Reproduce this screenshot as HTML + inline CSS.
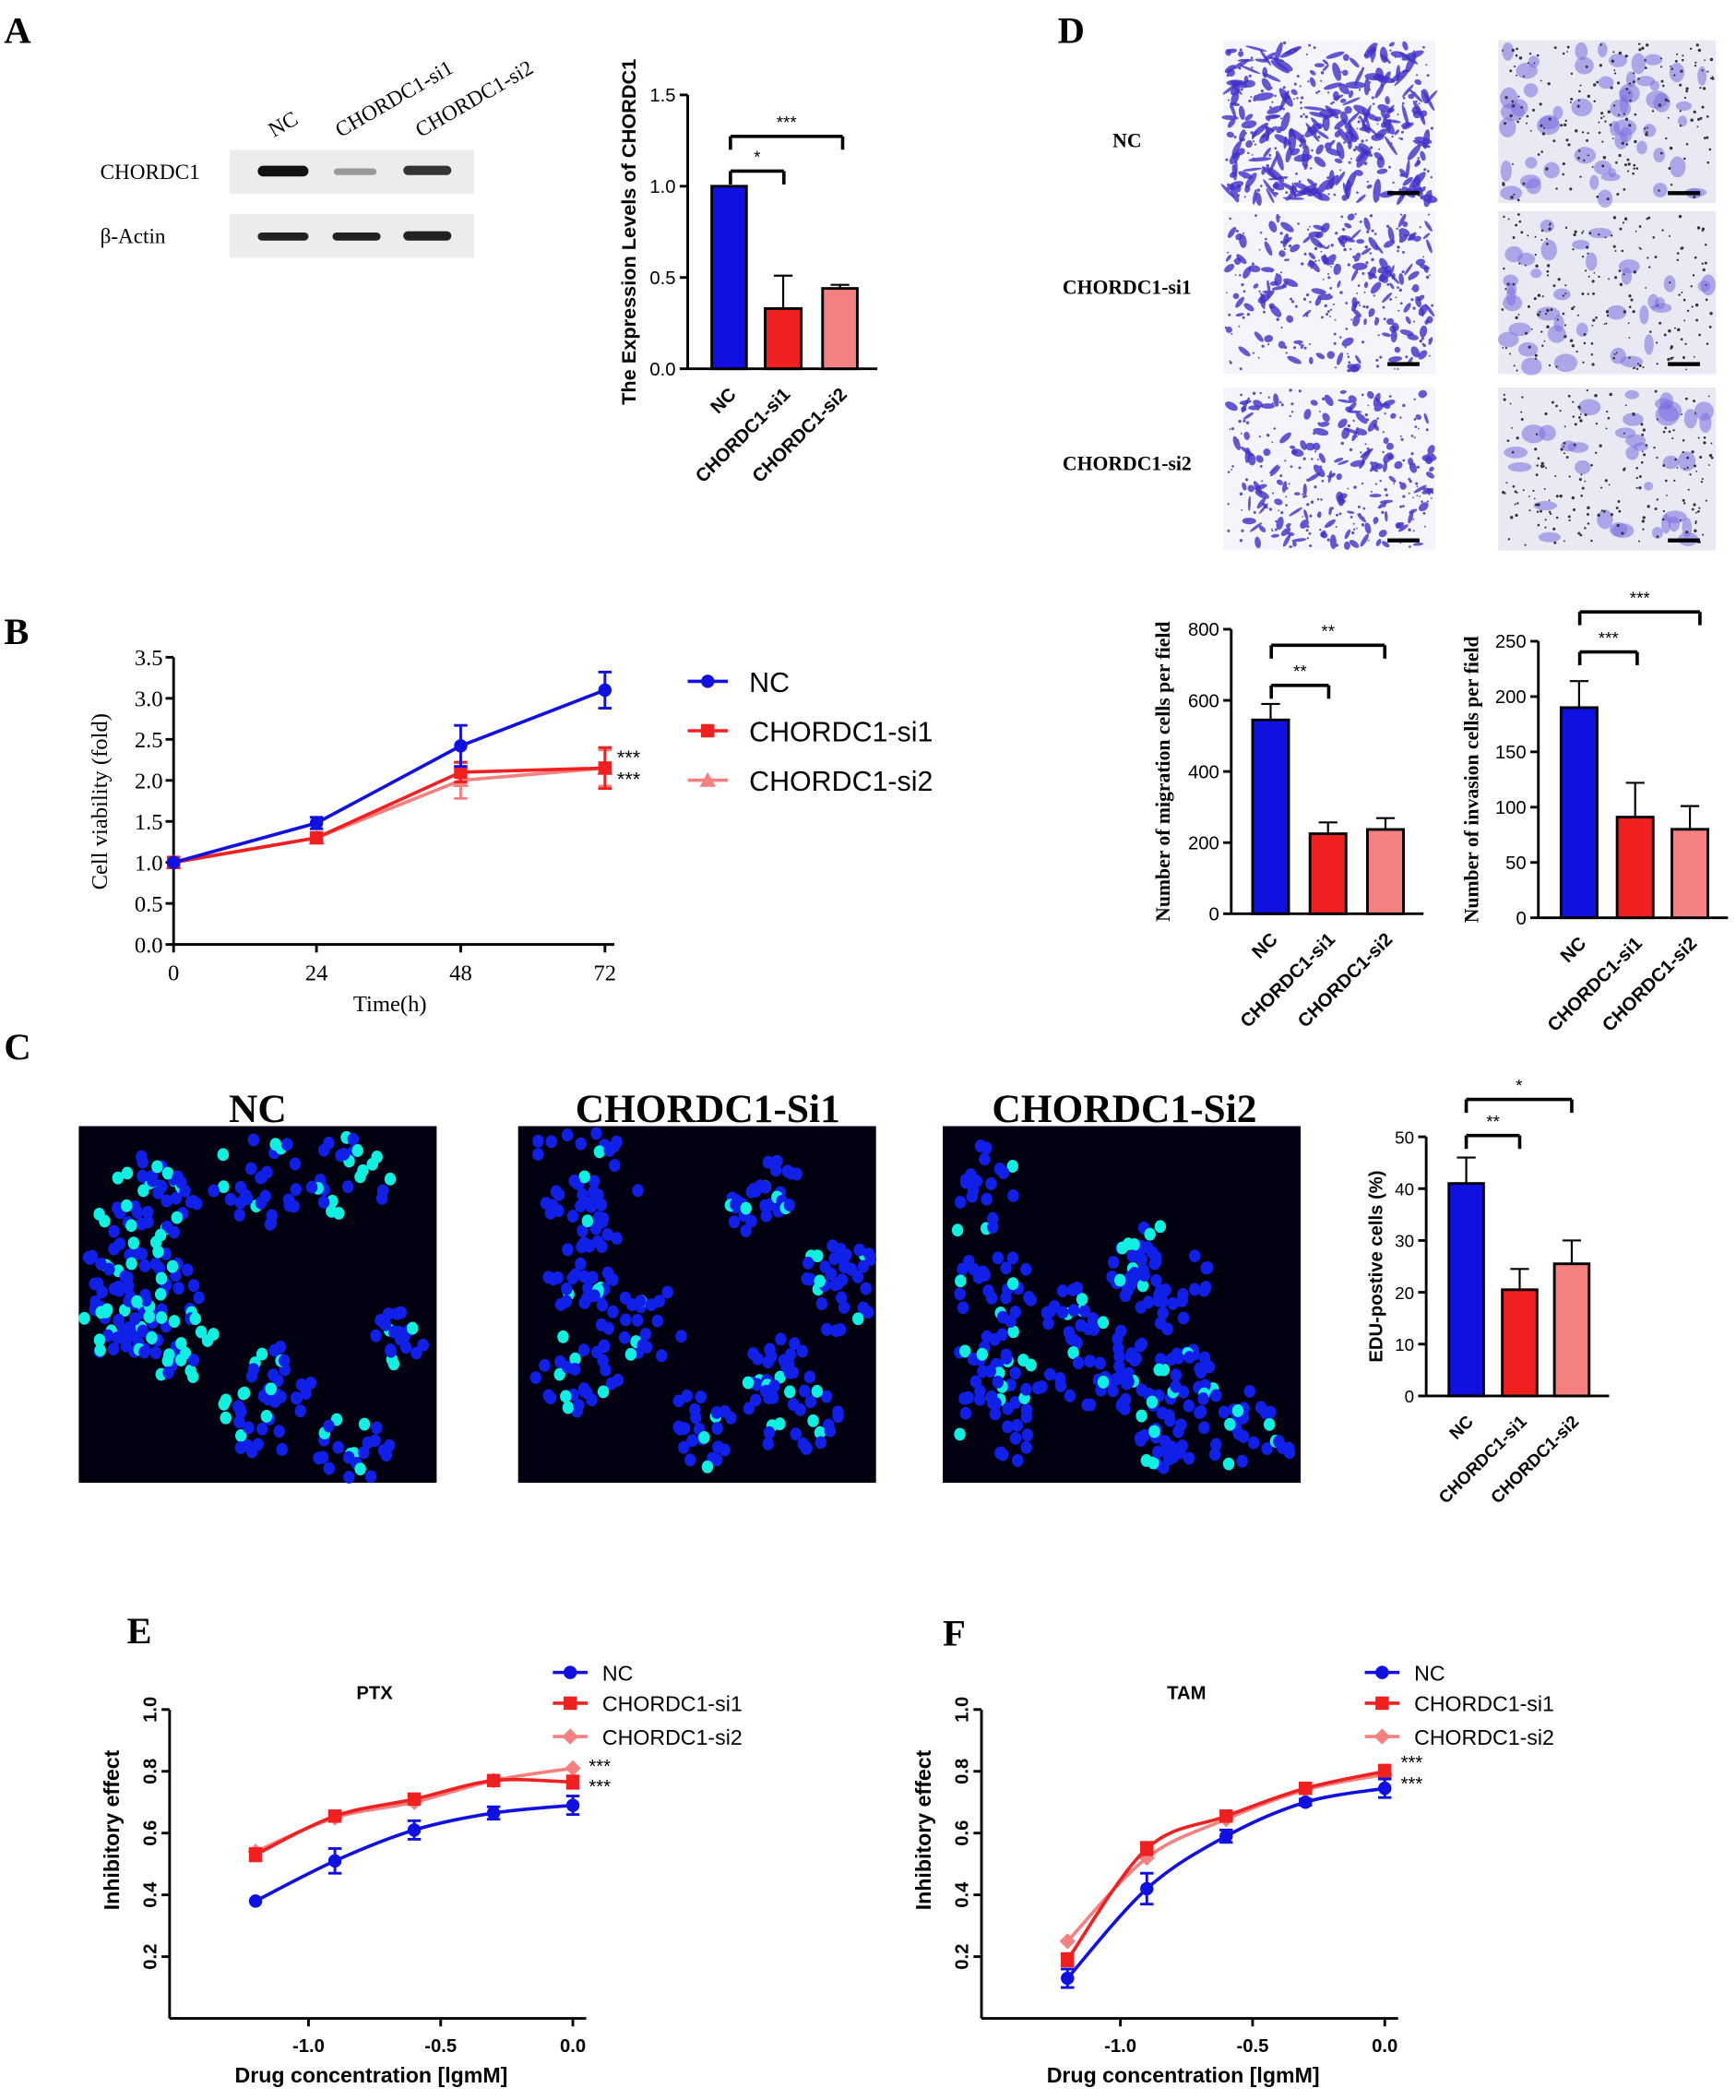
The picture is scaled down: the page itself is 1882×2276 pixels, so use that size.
<!DOCTYPE html>
<html><head><meta charset="utf-8"><style>
html,body{margin:0;padding:0;background:#fff}
svg{display:block}
text{font-family:"Liberation Sans",sans-serif}
.serif{font-family:"Liberation Serif",serif}
</style></head><body>
<svg id="s" xmlns="http://www.w3.org/2000/svg" width="1882" height="2276" viewBox="0 0 1300 1572">
<rect width="1300" height="1572" fill="#fff"/>
<g class="serif" font-weight="bold" font-size="28">
<text x="3" y="32" class="serif">A</text>
<text x="3" y="482" class="serif">B</text>
<text x="3" y="793" class="serif">C</text>
<text x="792" y="32" class="serif">D</text>
<text x="95" y="1230" class="serif">E</text>
<text x="706" y="1232" class="serif">F</text>
</g>
<g class="serif" font-size="16">
<text x="205" y="103" transform="rotate(-30 205 103)" class="serif">NC</text>
<text x="255" y="103" transform="rotate(-30 255 103)" class="serif">CHORDC1-si1</text>
<text x="315" y="103" transform="rotate(-30 315 103)" class="serif">CHORDC1-si2</text>
<text x="75" y="134" class="serif">CHORDC1</text>
<text x="75" y="182" class="serif">β-Actin</text>
</g>
<rect x="172" y="112" width="183" height="33" fill="#ececec"/>
<rect x="172" y="160" width="183" height="33" fill="#ececec"/>
<rect x="193" y="124" width="38" height="8" rx="4" fill="#111"/>
<rect x="250" y="126" width="32" height="5" rx="2.5" fill="#999"/>
<rect x="302" y="124" width="36" height="7" rx="3.5" fill="#333"/>
<rect x="193" y="174" width="38" height="6" rx="3" fill="#222"/>
<rect x="249" y="174" width="36" height="6" rx="3" fill="#222"/>
<rect x="302" y="173" width="36" height="7" rx="3.5" fill="#222"/>
<g id="dyn"></g>
</svg>
<script>
const S=document.getElementById('dyn');
let H='';
function t(x,y,s,o){o=o||{};H+=`<text x="${x}" y="${y}" font-size="${o.fs||13}" ${o.a?'text-anchor="'+o.a+'"':''} ${o.w?'font-weight="bold"':''} ${o.r!=null?`transform="rotate(${o.r} ${x} ${y})"`:''} ${o.c?'class="serif"':''} fill="${o.f||'#000'}">${s}</text>`;}
function l(x1,y1,x2,y2,w,c){H+=`<line x1="${x1}" y1="${y1}" x2="${x2}" y2="${y2}" stroke="${c||'#000'}" stroke-width="${w||2}"/>`;}
function r(x,y,w,h,f){H+=`<rect x="${x}" y="${y}" width="${w}" height="${h}" fill="${f}" stroke="#000" stroke-width="2"/>`;}
const BL='#1010e0',RD='#f02020',PK='#f48080';
function bars(ax,y0,ytop,vmax,step,ticks,bs,vals,errs,cols,labels,ylabel,ylx,brs,fs){
 l(ax,y0,ax,ytop,2);l(ax,y0,bs[bs.length-1][0]+bs[0][1]+15,y0,2);
 const sc=(y0-ytop)/vmax;
 ticks.forEach(v=>{const y=y0-v*sc;l(ax-6,y,ax,y,2);t(ax-9,y+5,v,{a:'end',fs:fs||13});});
 bs.forEach((b,i)=>{const y=y0-vals[i]*sc;r(b[0],y,b[1],y0-y,cols[i]);const cx=b[0]+b[1]/2;const ey=y-errs[i]*sc;l(cx,y,cx,ey,1.5);l(cx-7,ey,cx+7,ey,1.5);
  t(cx+6,y0+20,labels[i],{a:'end',r:-45,w:1,fs:fs||13});});
 brs.forEach(b=>{l(b[0],b[2],b[0],b[2]+10,2.5);l(b[0],b[2],b[1],b[2],2.5);l(b[1],b[2],b[1],b[2]+10,2.5);t((b[0]+b[1])/2,b[2]-6,b[3],{a:'middle',fs:13});});
 t(ylx,(y0+ytop)/2,ylabel,{a:'middle',r:-90,w:1,fs:fs?fs+1:15,c:ylabel.startsWith('Number')});
}
const LB=['NC','CHORDC1-si1','CHORDC1-si2'];
bars(515,276,71,1.5,0,['0.0','0.5','1.0','1.5'],[[533,26],[573,27],[616,26]],[1,0.33,0.44],[0,0.18,0.02],[BL,RD,PK],LB,'The Expression Levels of CHORDC1',476,[[547,587,128,'*'],[547,631,102,'***']],14);
bars(922,684,471,800,0,['0','200','400','600','800'],[[938,27],[981,27],[1024,27]],[545,225,237],[45,32,32],[BL,RD,PK],LB,'Number of migration cells per field',876,[[952,995,513,'**'],[952,1037,483,'**']],14);
bars(1152,687,480,250,0,['0','50','100','150','200','250'],[[1169,27],[1211,27],[1252,27]],[190,91,80],[24,31,21],[BL,RD,PK],LB,'Number of invasion cells per field',1107,[[1183,1226,488,'***'],[1183,1273,458,'***']],14);
bars(1068,1045,851,50,0,['0','10','20','30','40','50'],[[1085,26],[1125,26],[1164,26]],[41,20.5,25.5],[5,4,4.5],[BL,RD,PK],LB,'EDU-postive cells (%)',1035,[[1098,1138,850,'**'],[1098,1177,823,'*']],13);
{const x0=130,y0=707,sy=(707-492)/3.5,xs=[130,237,345,453];
 l(x0,y0,x0,492,2);l(x0,y0,460,y0,2);
 for(let i=0;i<=7;i++){const y=y0-i*0.5*sy;l(x0-6,y,x0,y,2);t(x0-8,y+6,(i*0.5).toFixed(1),{a:'end',fs:17,c:1});}
 xs.forEach((x,i)=>{l(x,y0,x,y0+6,2);t(x,y0+27,[0,24,48,72][i],{a:'middle',fs:17,c:1});});
 t(292,757,'Time(h)',{a:'middle',fs:17,c:1});t(80,600,'Cell viability (fold)',{a:'middle',r:-90,fs:17,c:1});
 const ser=[[PK,[1,1.3,2.0,2.15],[0,.03,.22,.22],'tri'],[RD,[1,1.3,2.1,2.15],[0,.04,.12,.25],'sq'],[BL,[1,1.48,2.42,3.1],[0,.07,.25,.22],'c']];
 ser.forEach(s=>{let p=s[1].map((v,i)=>xs[i]+','+(y0-v*sy)).join(' ');H+=`<polyline points="${p}" fill="none" stroke="${s[0]}" stroke-width="2.5"/>`;
  s[1].forEach((v,i)=>{const y=y0-v*sy,x=xs[i],e=s[2][i]*sy;if(e){l(x,y-e,x,y+e,2,s[0]);l(x-5,y-e,x+5,y-e,2,s[0]);l(x-5,y+e,x+5,y+e,2,s[0]);}
   if(s[3]=='c')H+=`<circle cx="${x}" cy="${y}" r="5" fill="${s[0]}"/>`;else if(s[3]=='sq')H+=`<rect x="${x-5}" y="${y-5}" width="10" height="10" fill="${s[0]}"/>`;else H+=`<polygon points="${x},${y-6} ${x-6},${y+5} ${x+6},${y+5}" fill="${s[0]}"/>`;});});
 t(462,572,'***',{fs:15});t(462,588,'***',{fs:15});
 [[BL,510,'NC','c'],[RD,547,'CHORDC1-si1','sq'],[PK,584,'CHORDC1-si2','tri']].forEach(g=>{l(515,g[1],545,g[1],2.5,g[0]);const x=530,y=g[1];
  if(g[3]=='c')H+=`<circle cx="${x}" cy="${y}" r="5" fill="${g[0]}"/>`;else if(g[3]=='sq')H+=`<rect x="${x-5}" y="${y-5}" width="10" height="10" fill="${g[0]}"/>`;else H+=`<polygon points="${x},${y-6} ${x-6},${y+5} ${x+6},${y+5}" fill="${g[0]}"/>`;
  t(561,y+8,g[2],{fs:21});});}
function dose(ax,title,xt,data,stars){
 const y0=1511,sy=(1465-1280)/0.8;
 const xp=v=>(xt)+(v+1)*198;
 l(ax,y0,ax,1280,2);l(ax,y0,xp(0)+10,y0,2);
 [0.2,0.4,0.6,0.8,1.0].forEach(v=>{const y=y0-v*sy;l(ax-6,y,ax,y,2);t(ax-10,y,v.toFixed(1),{a:'middle',r:-90,fs:14,w:1});});
 [-1.0,-0.5,0.0].forEach(v=>{l(xp(v),y0,xp(v),y0+6,2);t(xp(v),y0+25,v.toFixed(1),{a:'middle',fs:14,w:1});});
 t((ax+xp(0))/2,y0+48,'Drug concentration [lgmM]',{a:'middle',fs:16,w:1});
 t(ax-38,1370,'Inhibitory effect',{a:'middle',r:-90,fs:16,w:1});
 t(xp(-0.75),1272,title,{a:'middle',fs:14,w:1});
 const xs=[-1.2,-0.9,-0.6,-0.3,0];
 data.forEach(s=>{const P=s[1].map((v,i)=>[xp(xs[i]),y0-v*sy]);
  let d=`M${P[0][0]},${P[0][1]}`;
  for(let i=0;i<P.length-1;i++){const p0=P[Math.max(0,i-1)],p1=P[i],p2=P[i+1],p3=P[Math.min(P.length-1,i+2)];
   d+=` C${p1[0]+(p2[0]-p0[0])/6},${p1[1]+(p2[1]-p0[1])/6} ${p2[0]-(p3[0]-p1[0])/6},${p2[1]-(p3[1]-p1[1])/6} ${p2[0]},${p2[1]}`;}
  H+=`<path d="${d}" fill="none" stroke="${s[0]}" stroke-width="2.5"/>`;
  s[1].forEach((v,i)=>{const x=xp(xs[i]),y=y0-v*sy,e=s[2][i]*sy;if(e){l(x,y-e,x,y+e,2,s[0]);l(x-5,y-e,x+5,y-e,2,s[0]);l(x-5,y+e,x+5,y+e,2,s[0]);}
   if(s[3]=='c')H+=`<circle cx="${x}" cy="${y}" r="5" fill="${s[0]}"/>`;else if(s[3]=='sq')H+=`<rect x="${x-5}" y="${y-5}" width="10" height="10" fill="${s[0]}"/>`;else H+=`<polygon points="${x},${y-6} ${x+6},${y} ${x},${y+6} ${x-6},${y}" fill="${s[0]}"/>`;});});
 const lx=xp(0)-15;
 [[BL,1252,'NC','c'],[RD,1275,'CHORDC1-si1','sq'],[PK,1300,'CHORDC1-si2','d']].forEach(g=>{l(lx,g[1],lx+26,g[1],2.5,g[0]);const x=lx+13,y=g[1];
  if(g[3]=='c')H+=`<circle cx="${x}" cy="${y}" r="5" fill="${g[0]}"/>`;else if(g[3]=='sq')H+=`<rect x="${x-5}" y="${y-5}" width="10" height="10" fill="${g[0]}"/>`;else H+=`<polygon points="${x},${y-6} ${x+6},${y} ${x},${y+6} ${x-6},${y}" fill="${g[0]}"/>`;
  t(lx+37,y+6,g[2],{fs:16});});
 t(xp(0)+12,stars[0],'***',{fs:14});t(xp(0)+12,stars[1],'***',{fs:14});
}
dose(127,'PTX',231,[[PK,[.54,.65,.70,.77,.81],[0,0,0,0,0],'d'],[RD,[.53,.655,.71,.77,.765],[.02,.01,.01,.01,.02],'sq'],[BL,[.38,.51,.61,.665,.69],[0,.04,.03,.02,.03],'c']],[1327,1342]);
dose(735,'TAM',839,[[PK,[.25,.52,.645,.74,.79],[0,0,0,0,0],'d'],[RD,[.19,.55,.655,.745,.80],[.02,.02,.01,.01,.02],'sq'],[BL,[.13,.42,.59,.70,.745],[.03,.05,.02,.01,.03],'c']],[1324,1340]);
let seed=11;function rnd(){seed=(seed*16807)%2147483647;return seed/2147483647;}
[[59,'NC',193],[388,'CHORDC1-Si1',530],[706,'CHORDC1-Si2',842]].forEach((g,k)=>{
 t(g[2],840,g[1],{a:'middle',fs:30,w:1,c:1});
 H+=`<rect x="${g[0]}" y="843" width="268" height="267" fill="#000010"/>`;
 const nCl=12;for(let c=0;c<nCl;c++){const cx=g[0]+15+rnd()*238,cy=858+rnd()*237,rr=18+rnd()*28;
  for(let i=0;i<rr*0.8;i++){const a=rnd()*6.28,d=Math.sqrt(rnd())*rr;const x=cx+Math.cos(a)*d,y=cy+Math.sin(a)*d;if(x<g[0]+4||x>g[0]+264||y<847||y>1106)continue;
   const cyan=rnd()<(k==0?0.35:0.15);H+=`<ellipse cx="${x}" cy="${y}" rx="4.3" ry="4.8" fill="${cyan?'#10f0e0':'#1020e8'}"/>`;}}
});
[['NC',110],['CHORDC1-si1',220],['CHORDC1-si2',352]].forEach(g=>t(844,g[1],g[0],{a:'middle',fs:15,w:1,c:1}));
[[30],[158],[290]].forEach((row,ri)=>{[916,1122].forEach((x,ci)=>{const y=row[0];const h=122,w=ci?163:159;
 H+=`<rect x="${x}" y="${y}" width="${w}" height="${h}" fill="${ci?'#e8e9f2':'#f4f4fa'}"/>`;
 const n=ci?(ri==0?55:35):(ri==0?260:150);
 for(let i=0;i<n;i++){const px=x+3+rnd()*(w-6),py=y+3+rnd()*(h-6);
  if(ci)H+=`<ellipse cx="${px}" cy="${py}" rx="${3+rnd()*6}" ry="${3+rnd()*5}" fill="#7a70e0" opacity="0.55"/>`;
  else H+=`<ellipse cx="${px}" cy="${py}" rx="${2+rnd()*(ri==0?7:4)}" ry="${1+rnd()*2}" transform="rotate(${rnd()*180} ${px} ${py})" fill="#4030c8" opacity="0.8"/>`;}
 for(let i=0;i<200;i++){H+=`<circle cx="${x+2+rnd()*(w-4)}" cy="${y+2+rnd()*(h-4)}" r="${0.6+rnd()*0.6}" fill="${ci?'#334':'#6050c0'}"/>`;}
 H+=`<rect x="${x+w-36}" y="${y+h-9}" width="24" height="3" fill="#000"/>`;});});
S.innerHTML=H;
</script>
</body></html>
